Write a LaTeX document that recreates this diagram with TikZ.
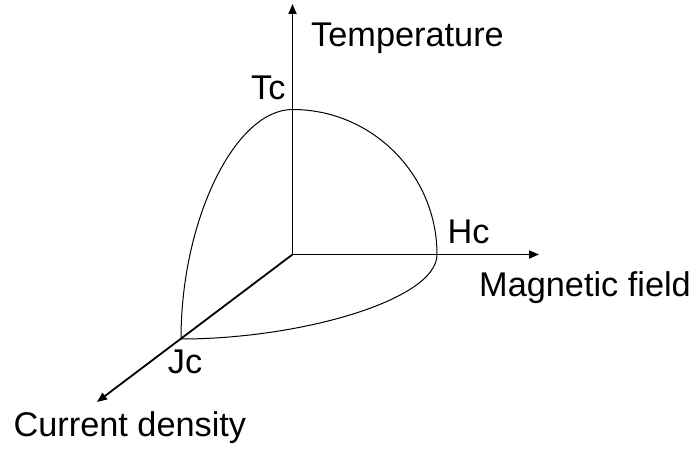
\documentclass[tikz,border=0pt]{standalone}
\usepackage{fontspec}
\setmainfont{Liberation Sans}
\usetikzlibrary{arrows.meta}
\begin{document}
\begin{tikzpicture}[x=1pt,y=-1pt,
  axis/.style={line width=1.8pt, -{Triangle[length=10pt,width=8pt]}},
  curve/.style={line width=1pt},
  lbl/.style={anchor=base west, inner sep=0pt, font=\fontsize{34.3}{41}\selectfont}]
\useasboundingbox (0,0) rectangle (696,449);
\coordinate (O) at (292.5,254.5);
\coordinate (tc) at (292.5,109.5);
\coordinate (hc) at (437,254.5);
\coordinate (jc) at (181,339);
\coordinate (tend) at (292.5,4);
\coordinate (hend) at (539,254.5);
\coordinate (jend) at (97,402);
\draw[axis] (O) -- (tend);
\draw[axis] (O) -- (hend);
\draw[axis] (O) -- (jend);
\draw[curve] (tc) .. controls (372.5,109.5) and (437,175) .. (hc);
\draw[curve] (tc) .. controls (235,109.5) and (181,220) .. (jc);
\draw[curve] (hc) .. controls (437,300) and (300,339) .. (jc);
\node[lbl] (ltemp) at (311,46.7) {Temperature};
\node[lbl] (lmag) at (479,296.7) {Magnetic field};
\node[lbl] (lcur) at (13.4,436.7) {Current density};
\node[lbl] (ltc) at (251,100) {Tc};
\node[lbl] (lhc) at (447.4,243.3) {Hc};
\node[lbl] (ljc) at (167.7,373.3) {Jc};
\end{tikzpicture}
\end{document}
